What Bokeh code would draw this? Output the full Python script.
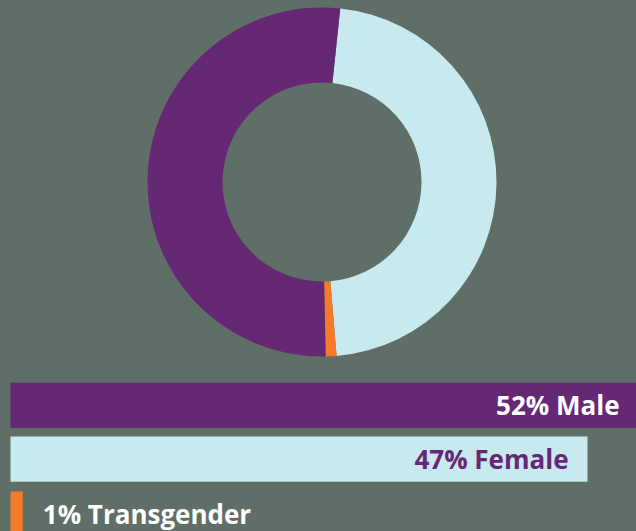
from bokeh.plotting import figure
from bokeh.layouts import column
from bokeh.models import Range1d, ColumnDataSource
from bokeh.core.properties import value
from bokeh.embed import file_html
from bokeh.resources import INLINE
import math

# ---- data ----
categories = ["Male", "Female", "Transgender"]
percents = [52, 47, 1]
labels = ["52% Male", "47% Female", "1% Transgender"]
donut_order = ["Female", "Transgender", "Male"]   # clockwise from top

# ---- style ----
BG = "#5f6e66"
COLORS = {"Male": "#652874", "Female": "#c8e9ee", "Transgender": "#f47b2a"}
LABEL_COLORS = {"Male": "#ffffff", "Female": "#652874", "Transgender": "#ffffff"}
FONT = "Open Sans"

W = 636
H_TOP = 370
H_BOT = 161

# ---- donut ----
cx, cy = 321.5, 181.5
outer_r, inner_r = 174.5, 99.5
start_offset = 6.0  # degrees clockwise from 12 o'clock

p1 = figure(width=W, height=H_TOP, output_backend="svg", toolbar_location=None,
            x_range=Range1d(-cx, W - cx), y_range=Range1d(-(H_TOP - cy), cy),
            min_border=0, background_fill_color=BG, border_fill_color=BG,
            outline_line_color=None)
p1.axis.visible = False
p1.grid.visible = False

pct = dict(zip(categories, percents))
total = sum(percents)
starts, ends, cols = [], [], []
acc = start_offset
for c in donut_order:
    span = pct[c] / total * 360.0
    a, b = acc, acc + span
    starts.append(math.radians(90 - b))
    ends.append(math.radians(90 - a))
    cols.append(COLORS[c])
    acc = b
src1 = ColumnDataSource(dict(start=starts, end=ends, color=cols))
p1.annular_wedge(x=0, y=0, inner_radius=inner_r, outer_radius=outer_r,
                 start_angle="start", end_angle="end", color="color",
                 direction="anticlock", source=src1, line_color=None)

# ---- bars ----
px_per_pct = 577 / 47.0
left_px = 10
p2 = figure(width=W, height=H_BOT, output_backend="svg", toolbar_location=None,
            x_range=Range1d(-left_px / px_per_pct, (W - left_px) / px_per_pct),
            y_range=Range1d(H_BOT, 0),
            min_border=0, background_fill_color=BG, border_fill_color=BG,
            outline_line_color=None)
p2.axis.visible = False
p2.grid.visible = False

bar_tops = [12.3, 66, 121]
bar_h = 45.3
ys = [t + bar_h / 2 for t in bar_tops]
src2 = ColumnDataSource(dict(y=ys, right=percents,
                             color=[COLORS[c] for c in categories]))
p2.hbar(y="y", left=0, right="right", height=bar_h, color="color",
        line_color=None, source=src2)

xmax = (W - left_px) / px_per_pct
lab_x = [xmax - 17 / px_per_pct, percents[1] - 19 / px_per_pct, percents[2] + 20 / px_per_pct]
lab_y = [34.3, 88.3, 143.5]
lab_align = ["right", "right", "left"]
src3 = ColumnDataSource(dict(x=lab_x, y=lab_y, text=labels, align=lab_align,
                             color=[LABEL_COLORS[c] for c in categories]))
p2.text(x="x", y="y", text="text", text_align="align", text_baseline="middle",
        text_color="color", text_font=value(FONT), text_font_style="bold",
        text_font_size="26px", source=src3)

layout = column(p1, p2, spacing=0)
layout.styles = {"background-color": BG}
open("out.html", "w").write(file_html(layout, INLINE))
